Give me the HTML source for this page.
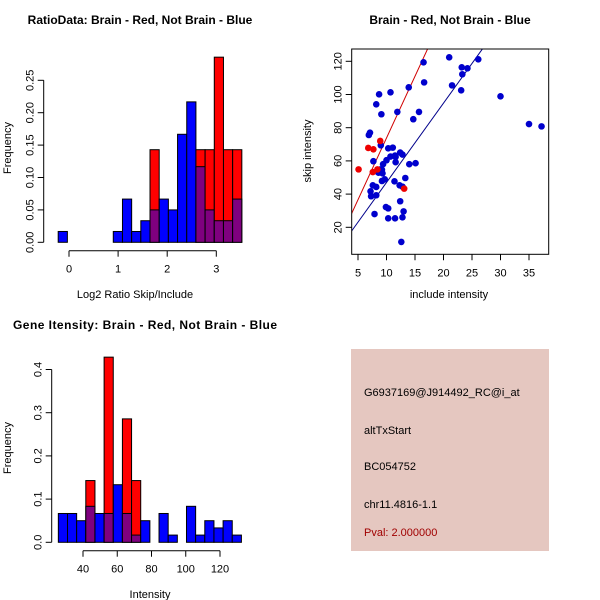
<!DOCTYPE html>
<html><head><meta charset="utf-8"><style>
body{margin:0;background:#fff}
svg{display:block;font-family:"Liberation Sans",Arial,sans-serif}
</style></head><body>
<svg id="s" width="600" height="600" xmlns="http://www.w3.org/2000/svg">
<rect x="0" y="0" width="600" height="600" fill="#fff"/>
</svg>
<script>
// ---- Ratio histogram data ----
const ratioStart = -0.22;
const ratioWidth = 0.187;
const ratioBlue = [0.0167,0,0,0,0,0,0.0167,0.0667,0.0167,0.0333,0.05,0.0667,0.05,0.1667,0.2167,0.1167,0.05,0.0333,0.0333,0.0667];
const ratioRed  = [0,0,0,0,0,0,0,0,0,0,0.1429,0,0,0,0,0.1429,0.1429,0.2857,0.1429,0.1429];
const ratioYTicks = ["0.00","0.05","0.10","0.15","0.20","0.25"];
const ratioXTicks = ["0","1","2","3"];
// ---- Intensity histogram data ----
const intStart = 25.6;
const intWidth = 5.345;
const intBlue = [0.0667,0.0667,0.05,0.0833,0.0667,0.0667,0.1333,0.0667,0.0167,0.05,0,0.0667,0.0167,0,0.0833,0.0167,0.05,0.0333,0.05,0.0167];
const intRed  = [0,0,0,0.1429,0,0.4286,0,0.2857,0.1429,0,0,0,0,0,0,0,0,0,0,0];
const intYTicks = ["0.0","0.1","0.2","0.3","0.4"];
const intXTicks = ["40","60","80","100","120"];
// ---- Scatter data ----
const blueX = [21.0,16.5,16.6,13.9,8.7,10.7,23.2,24.2,23.3,26.1,21.5,23.1,30.0,8.2,9.1,11.9,15.7,14.7,35.0,37.2,6.9,7.1,9.0,10.3,11.1,7.7,10.0,10.7,11.5,11.6,12.4,12.8,11.6,14.0,15.1,9.4,8.4,8.9,9.2,9.3,8.6,9.7,9.2,11.4,13.3,7.6,8.2,12.3,12.8,7.2,7.3,8.2,9.9,10.3,12.4,13.0,7.9,10.3,11.5,12.8,12.6];
const blueY = [122.4,119.4,107.3,104.3,100.1,101.3,116.4,115.8,112.2,121.2,105.5,102.5,98.9,94.1,88.1,89.5,89.5,85.1,82.2,80.8,75.6,77.0,69.4,67.6,68.0,59.8,60.4,62.6,63.2,62.4,65.0,63.8,59.2,58.0,58.6,58.0,53.5,54.9,54.7,52.5,52.9,48.9,47.9,47.7,49.7,45.3,44.3,45.3,44.5,41.7,38.7,39.3,32.2,31.4,35.7,29.6,28.0,25.4,25.4,26.0,11.2];
const redX = [5.1,6.8,7.7,8.9,7.6,8.4,13.1];
const redY = [54.9,67.8,67.0,72.0,53.3,54.9,43.3];
const lineSlopes = [7.44,4.78];
const lineIntercepts = [-0.6,-0.8];
const scatterXTicks = [5,10,15,20,25,30,35];
const scatterYTicks = [20,40,60,80,100,120];
// ---- Info ----
const infoLines = ["G6937169@J914492_RC@i_at","altTxStart","BC054752","chr11.4816-1.1"];
const pvalText = "Pval: 2.000000";

const svg = document.getElementById('s');
const NS = "http://www.w3.org/2000/svg";
function mk(tag, attrs, parent){ const e=document.createElementNS(NS,tag); for(const k in attrs) e.setAttribute(k,attrs[k]); (parent||svg).appendChild(e); return e; }
function txt(x,y,s,attrs,parent){ const e=mk('text',Object.assign({x:x,y:y,'font-size':11,fill:'#000','text-anchor':'middle'},attrs||{}),parent); e.textContent=s; return e; }

function hist(g, opt){
  const sx = v => opt.x0px + (v-opt.x0v)*opt.xs;
  const sy = v => opt.y0px - v*opt.ys;
  for(let i=0;i<opt.blue.length;i++){
    const l=sx(opt.start+i*opt.width), r=sx(opt.start+(i+1)*opt.width);
    const b=opt.blue[i], rd=opt.red[i];
    if(b<=0 && rd<=0) continue;
    const mx=Math.max(b,rd), mn=Math.min(b,rd);
    const col = rd>b ? '#ff0000' : '#0000ff';
    const bar=mk('rect',{x:l,y:sy(mx),width:r-l,height:sy(0)-sy(mx),fill:col,stroke:'#000','stroke-width':1},g);
    
    
    if(b>0 && rd>0){
      const ov=mk('rect',{x:l,y:sy(mn),width:r-l,height:sy(0)-sy(mn),fill:'#7f007f',stroke:'#000','stroke-width':1},g);
      
      
    }
  }
  const ya=mk('g',{},g);
  
  
  const yv=opt.yTicks.map(Number);
  mk('line',{x1:opt.yAxisX,x2:opt.yAxisX,y1:sy(yv[0]),y2:sy(yv[yv.length-1]),stroke:'#000'},ya);
  opt.yTicks.forEach((t,i)=>{ const y=sy(yv[i]);
    mk('line',{x1:opt.yAxisX-6,x2:opt.yAxisX,y1:y,y2:y,stroke:'#000'},ya);
    txt(opt.yAxisX-13,y,t,{transform:`rotate(-90 ${opt.yAxisX-13} ${y})`,'dominant-baseline':'middle'},ya);
  });
  const xa=mk('g',{},g);
  
  
  const xv=opt.xTicks.map(Number);
  mk('line',{x1:sx(xv[0]),x2:sx(xv[xv.length-1]),y1:opt.xAxisY,y2:opt.xAxisY,stroke:'#000'},xa);
  opt.xTicks.forEach((t,i)=>{ const x=sx(xv[i]);
    mk('line',{x1:x,x2:x,y1:opt.xAxisY,y2:opt.xAxisY+6,stroke:'#000'},xa);
    txt(x,opt.xAxisY+22,t,{},xa);
  });
}

// Panel 1
const g1=mk('g',{});  
hist(g1,{start:ratioStart,width:ratioWidth,blue:ratioBlue,red:ratioRed,yTicks:ratioYTicks,xTicks:ratioXTicks,
  x0px:69,x0v:0,xs:49.1,y0px:242.3,ys:648,yAxisX:43.7,xAxisY:250.7});
let t=txt(140,24,"RatioData: Brain - Red, Not Brain - Blue",{'font-weight':'bold','font-size':12},g1);  
t=txt(135,298,"Log2 Ratio Skip/Include",{},g1);  
t=txt(11,148,"Frequency",{transform:'rotate(-90 11 148)'},g1);  

// Panel 3
const g3=mk('g',{});  
hist(g3,{start:intStart,width:intWidth,blue:intBlue,red:intRed,yTicks:intYTicks,xTicks:intXTicks,
  x0px:83,x0v:40,xs:1.7125,y0px:542.3,ys:432,yAxisX:51.7,xAxisY:550.7});
t=txt(145,329,"Gene Itensity: Brain - Red, Not Brain - Blue",{'font-weight':'bold','font-size':12,textLength:264,lengthAdjust:'spacing'},g3);  
t=txt(150,598,"Intensity",{},g3);  
t=txt(11,448,"Frequency",{transform:'rotate(-90 11 448)'},g3);  

// Panel 2 scatter
const g2=mk('g',{});  
const L=351.7,R=548.7,T=49,B=254.3;
const px=v=>358+(v-5)*5.7, py=v=>227.3-(v-20)*1.66;
const cp=mk('clipPath',{id:'cp'},g2); mk('rect',{x:L,y:T,width:R-L,height:B-T},cp);
const lc=['#d00000','#00008b'];
lineSlopes.forEach((m,i)=>{ const x1=0,x2=45;
  const ln=mk('line',{x1:px(x1),y1:py(lineIntercepts[i]+m*x1),x2:px(x2),y2:py(lineIntercepts[i]+m*x2),stroke:lc[i],'stroke-width':1,'clip-path':'url(#cp)'},g2);
  
  
});
blueX.forEach((x,i)=>{ const c=mk('circle',{cx:px(x),cy:py(blueY[i]),r:3.3,fill:'#0000cd'},g2);
    });
redX.forEach((x,i)=>{ const c=mk('circle',{cx:px(x),cy:py(redY[i]),r:3.3,fill:'#ee0000'},g2);
    });
const fr=mk('rect',{x:L,y:T,width:R-L,height:B-T,fill:'none',stroke:'#000'},g2);
 
scatterXTicks.forEach(v=>{ mk('line',{x1:px(v),x2:px(v),y1:B,y2:B+6,stroke:'#000'},g2); txt(px(v),B+22,String(v),{},g2); });
scatterYTicks.forEach(v=>{ mk('line',{x1:L-6,x2:L,y1:py(v),y2:py(v),stroke:'#000'},g2); txt(L-13,py(v),String(v),{transform:`rotate(-90 ${L-13} ${py(v)})`,'dominant-baseline':'middle'},g2); });
t=txt(450,24,"Brain - Red, Not Brain - Blue",{'font-weight':'bold','font-size':12},g2);  
t=txt(449,298,"include intensity",{},g2);  
t=txt(311,151,"skip intensity",{transform:'rotate(-90 311 151)'},g2);  

// Panel 4 info
const g4=mk('g',{});  
mk('rect',{x:351,y:349,width:198,height:202,fill:'#e5c7c0'},g4);
const ys=[396,434,470,508];
infoLines.forEach((s,i)=>{ const e=txt(364,ys[i],s,{'text-anchor':'start'},g4);   });
t=txt(364,536,pvalText,{'text-anchor':'start',fill:'#a00000'},g4);  
</script>
</body></html>
